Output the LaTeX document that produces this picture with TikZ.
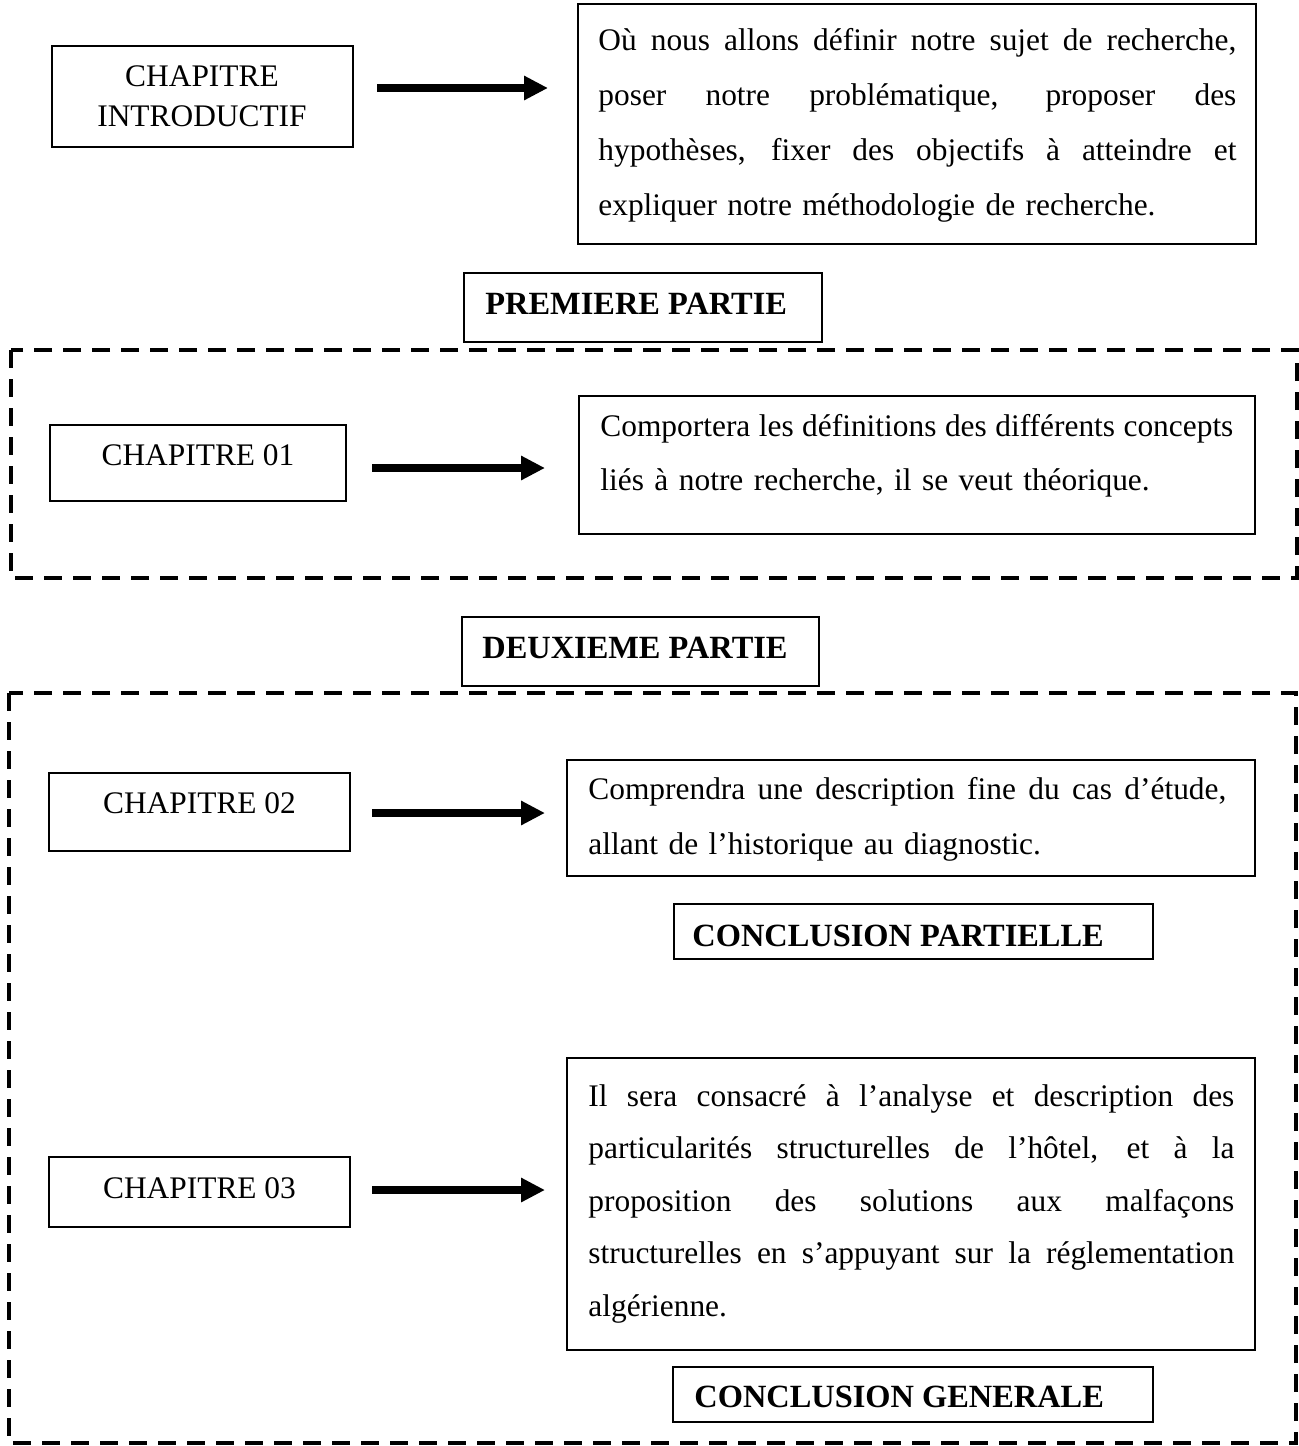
\documentclass[tikz,border=0pt]{standalone}
\usepackage{fontspec}
\setmainfont{Liberation Serif}
\usetikzlibrary{arrows.meta,fit}
\newcommand\jline[2]{\hbox to #1{\spaceskip=0.25em plus 1fil minus 0.12em\relax #2}}
\newcommand\nline[1]{\hbox{#1}}
\tikzset{
  x=0.5pt, y=-0.5pt,
  sbox/.style={draw, line width=0.75pt, inner sep=0pt},
  tbox/.style={draw, line width=1pt, inner sep=0pt},
  lbl/.style={inner sep=0pt, font=\fontsize{15.7}{20}\selectfont},
  blbl/.style={inner sep=0pt, font=\fontsize{16.2}{20}\selectfont\bfseries, anchor=base west},
  desc/.style={inner sep=0pt, anchor=base west},
  bigarrow/.style={line width=4pt, -{Triangle[width=11.5pt,length=12pt]}},
  partbox/.style={line width=2pt, dash pattern=on 9pt off 5.5pt},
}
\begin{document}
\begin{tikzpicture}
\useasboundingbox (0,0) rectangle (1299,1446);

% ---- introduction
\node[sbox, fit={(52,46) (353,147)}] (intro) {};
\node[lbl, anchor=base] (introA) at (202,86) {CHAPITRE};
\node[lbl, anchor=base] (introB) at (202,126) {INTRODUCTIF};
\coordinate (a1s) at (377,88);
\coordinate (a1e) at (548,88);
\draw[bigarrow] (a1s) -- (a1e);
\node[sbox, fit={(578,4) (1256,244)}] (d1) {};
\node[desc, text width=319pt, font=\fontsize{15.7}{27.6}\selectfont] (d1t) at (598,50) {%
\jline{319pt}{Où nous allons définir notre sujet de recherche,}
\jline{319pt}{poser notre problématique, proposer des}
\jline{319pt}{hypothèses, fixer des objectifs à atteindre et}
\nline{expliquer notre méthodologie de recherche.}};

% ---- premiere partie
\node[tbox, fit={(464,273) (822,342)}] (p1) {};
\node[blbl] (p1t) at (485,314) {PREMIERE PARTIE};
\draw[partbox] (11,350) rectangle (1297,578);
\node[sbox, fit={(50,425) (346,501)}] (c1) {};
\node[lbl, anchor=base] (c1t) at (198,465) {CHAPITRE 01};
\coordinate (a2s) at (372,468);
\coordinate (a2e) at (545,468);
\draw[bigarrow] (a2s) -- (a2e);
\node[sbox, fit={(579,396) (1255,534)}] (d2) {};
\node[desc, text width=316.5pt, font=\fontsize{15.7}{27}\selectfont] (d2t) at (600,436) {%
\jline{316.5pt}{Comportera les définitions des différents concepts}
\nline{liés à notre recherche, il se veut théorique.}};

% ---- deuxieme partie
\node[tbox, fit={(462,617) (819,686)}] (p2) {};
\node[blbl] (p2t) at (482,658) {DEUXIEME PARTIE};
\draw[partbox] (9,693) rectangle (1296,1443);

\node[sbox, fit={(49,773) (350,851)}] (c2) {};
\node[lbl, anchor=base] (c2t) at (199.5,813) {CHAPITRE 02};
\coordinate (a3s) at (372,813);
\coordinate (a3e) at (545,813);
\draw[bigarrow] (a3s) -- (a3e);
\node[sbox, fit={(567,760) (1255,876)}] (d3) {};
\node[desc, text width=323pt, font=\fontsize{15.7}{27.5}\selectfont] (d3t) at (588,799) {%
\jline{319pt}{Comprendra une description fine du cas d’étude,}
\nline{allant de l’historique au diagnostic.}};
\node[tbox, fit={(674,904) (1153,959)}] (cp) {};
\node[blbl] (cpt) at (692,946) {CONCLUSION PARTIELLE};

\node[sbox, fit={(49,1157) (350,1227)}] (c3) {};
\node[lbl, anchor=base] (c3t) at (199.5,1198) {CHAPITRE 03};
\coordinate (a4s) at (372,1190);
\coordinate (a4e) at (545,1190);
\draw[bigarrow] (a4s) -- (a4e);
\node[sbox, fit={(567,1058) (1255,1350)}] (d4) {};
\node[desc, text width=323pt, font=\fontsize{15.7}{26.3}\selectfont] (d4t) at (588,1106) {%
\jline{323pt}{Il sera consacré à l’analyse et description des}
\jline{323pt}{particularités structurelles de l’hôtel, et à la}
\jline{323pt}{proposition des solutions aux malfaçons}
\jline{323pt}{structurelles en s’appuyant sur la réglementation}
\nline{algérienne.}};
\node[tbox, fit={(673,1367) (1153,1422)}] (cg) {};
\node[blbl] (cgt) at (694,1407) {CONCLUSION GENERALE};
\end{tikzpicture}
\end{document}
